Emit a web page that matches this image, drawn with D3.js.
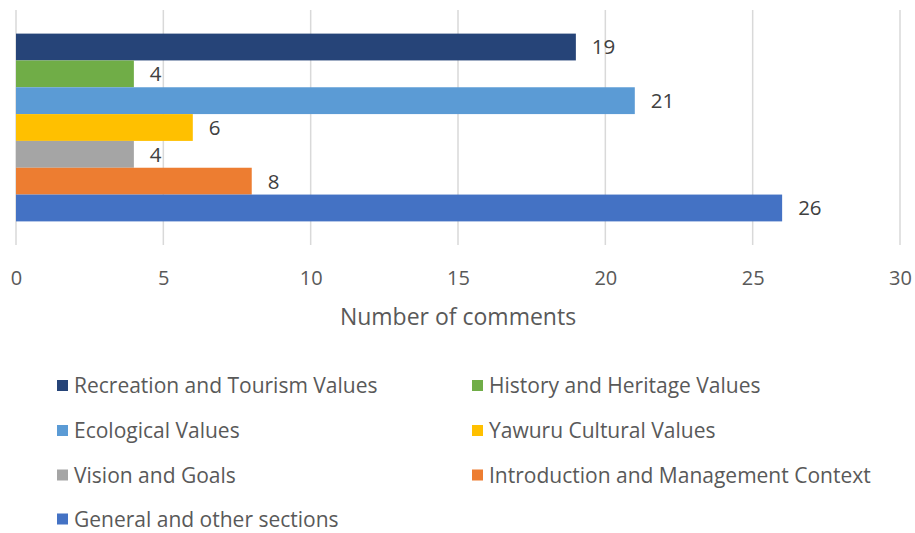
<!DOCTYPE html>
<html><head><meta charset="utf-8">
<script src="https://cdn.jsdelivr.net/npm/d3@7"></script>
<style>body{margin:0;background:#fff;} text{font-family:"Open Sans", Lato, sans-serif;}</style>
</head><body>
<svg id="chart" width="915" height="533"></svg>
<script>
const seriesNames = ["Recreation and Tourism Values","History and Heritage Values","Ecological Values","Yawuru Cultural Values","Vision and Goals","Introduction and Management Context","General and other sections"];
const seriesValues = [19,4,21,6,4,8,26];
const seriesColors = ["#264478","#70AD47","#5B9BD5","#FFC000","#A5A5A5","#ED7D31","#4472C4"];
const xTicks = [0,5,10,15,20,25,30];
const axisTitle = "Number of comments";

(function(){
const svg = d3.select("#chart");
const mL = 16, mR = 900, mT = 10, mB = 245;
const x = d3.scaleLinear().domain([0,30]).range([mL,mR]);
const y = d3.scaleBand().domain(seriesNames).range([mT,mB]).paddingInner(0).paddingOuter(0.88);

svg.append("g").selectAll("line").data(xTicks).join("line")
  .attr("x1",d=>x(d)).attr("x2",d=>x(d)).attr("y1",mT).attr("y2",mB)
  .attr("stroke","#d9d9d9").attr("stroke-width",1.5);

svg.append("g").selectAll("rect").data(seriesNames).join("rect")
  .attr("x",x(0)).attr("y",d=>y(d)).attr("width",(d,i)=>x(seriesValues[i])-x(0))
  .attr("height",y.bandwidth()).attr("fill",(d,i)=>seriesColors[i]);

svg.append("g").selectAll("text").data(seriesNames).join("text")
  .attr("x",(d,i)=>x(seriesValues[i])+16).attr("y",d=>y(d)+y.bandwidth()/2)
  .attr("dy","0.36em").attr("font-size",20.5).attr("fill","#404040")
  .text((d,i)=>seriesValues[i]);

const axis = d3.axisBottom(x).tickValues(xTicks).tickSize(0).tickPadding(0);
const ag = svg.append("g").attr("transform",`translate(0,${mB+39.5})`).call(axis);
ag.select(".domain").remove();
ag.selectAll("text").attr("font-size",20).attr("fill","#595959").attr("font-family","'Open Sans', sans-serif").attr("dy","0em");

svg.append("text").attr("x",(mL+mR)/2).attr("y",324.5).attr("text-anchor","middle")
  .attr("font-size",23).attr("fill","#595959").text(axisTitle);

const legCols = [57,472];
const legRows = [385.5,430.5,475,519];
const lg = svg.append("g").selectAll("g").data(seriesNames).join("g")
  .attr("transform",(d,i)=>`translate(${legCols[i%2]},${legRows[Math.floor(i/2)]})`);
lg.append("rect").attr("x",0).attr("y",-5.5).attr("width",11).attr("height",11).attr("fill",(d,i)=>seriesColors[i]);
lg.append("text").attr("x",17).attr("dy","0.36em").attr("font-size",21).attr("fill","#595959").text(d=>d);
})();
</script>
</body></html>
